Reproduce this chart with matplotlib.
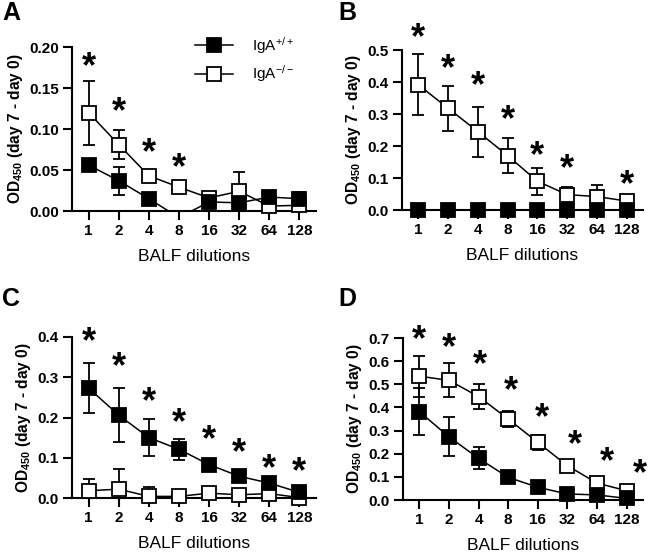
import numpy as np
import matplotlib
matplotlib.use("Agg")
import matplotlib.pyplot as plt
from matplotlib.lines import Line2D

plt.rcParams['font.family'] = ['Liberation Sans', 'DejaVu Sans']
plt.rcParams['mathtext.fontset'] = 'custom'
plt.rcParams['mathtext.rm'] = 'Liberation Sans'
plt.rcParams['mathtext.bf'] = 'Liberation Sans:bold'
plt.rcParams['mathtext.it'] = 'Liberation Sans:italic'

dilutions = ["1", "2", "4", "8", "16", "32", "64", "128"]

# Panel A
a_pos = [0.056, 0.037, 0.015, -0.008, 0.011, 0.010, 0.017, 0.015]
a_pos_err = [0.003, 0.017, 0.003, 0.0, 0.003, 0.003, 0.003, 0.008]
a_neg = [0.120, 0.081, 0.043, 0.029, 0.016, 0.024, 0.006, 0.007]
a_neg_err = [0.039, 0.018, 0.003, 0.002, 0.003, 0.023, 0.003, 0.003]
a_star_x = [0, 1, 2, 3]
a_star_y = [0.183, 0.128, 0.078, 0.060]

# Panel B
b_pos = [0, 0, 0, 0, 0, 0, 0, 0]
b_pos_err = [0, 0, 0, 0, 0, 0, 0, 0]
b_neg = [0.391, 0.318, 0.245, 0.170, 0.090, 0.048, 0.042, 0.028]
b_neg_err = [0.095, 0.070, 0.078, 0.055, 0.042, 0.025, 0.036, 0.004]
b_star_x = [0, 1, 2, 3, 4, 5, 7]
b_star_y = [0.557, 0.458, 0.407, 0.298, 0.187, 0.147, 0.095]

# Panel C
c_pos = [0.273, 0.206, 0.150, 0.121, 0.083, 0.054, 0.037, 0.014]
c_pos_err = [0.062, 0.067, 0.046, 0.026, 0.003, 0.003, 0.003, 0.003]
c_neg = [0.018, 0.022, 0.004, 0.004, 0.012, 0.008, 0.011, 0.001]
c_neg_err = [0.029, 0.050, 0.023, 0.003, 0.003, 0.003, 0.003, 0.0]
c_star_x = [0, 1, 2, 3, 4, 5, 6, 7]
c_star_y = [0.403, 0.341, 0.254, 0.200, 0.158, 0.125, 0.087, 0.079]

# Panel D
d_pos = [0.382, 0.273, 0.180, 0.098, 0.055, 0.026, 0.022, 0.007]
d_pos_err = [0.101, 0.084, 0.047, 0.005, 0.005, 0.005, 0.005, 0.005]
d_neg = [0.535, 0.517, 0.447, 0.350, 0.249, 0.148, 0.073, 0.040]
d_neg_err = [0.088, 0.074, 0.055, 0.036, 0.033, 0.005, 0.005, 0.005]
d_star_x = [0, 0.99, 2.04, 3.09, 4.13, 5.24, 6.34, 7.44]
d_star_y = [0.718, 0.680, 0.610, 0.494, 0.379, 0.264, 0.190, 0.137]

W, H = 650, 553
fig = plt.figure(figsize=(W / 100, H / 100), dpi=100)


def px_axes(left, right, top, bottom):
    return fig.add_axes([left / W, 1 - bottom / H, (right - left) / W, (bottom - top) / H])


MS = 9.5


def draw_panel(ax, pos, pos_err, neg, neg_err, ymax, yticks, fmt, star_x, star_y):
    x = np.arange(len(dilutions))
    for vals, errs, face, z in [(neg, neg_err, 'white', 3), (pos, pos_err, 'black', 4)]:
        vals = np.asarray(vals, float)
        errs = np.asarray(errs, float)
        ax.errorbar(x, vals, yerr=errs, fmt='none', ecolor='black', elinewidth=1.3,
                    capsize=4.5, capthick=1.3, zorder=z)
        ax.plot(x, vals, '-', color='black', lw=1.1, zorder=z)
        mv = np.where(vals >= 0, vals, np.nan)
        ax.plot(x, mv, 's', ms=MS, mfc=face, mec='black', mew=1.3, zorder=z + 0.5,
                clip_on=False, linestyle='none')
    for sx, sy in zip(star_x, star_y):
        ax.annotate('*', xy=(sx, sy), xytext=(0, -11.5), textcoords='offset points',
                    ha='center', va='baseline', fontsize=26, fontweight='bold',
                    annotation_clip=False)
    ax.set_xlim(-0.55, 7.55)
    ax.set_ylim(0, ymax)
    ax.set_xticks(x)
    ax.set_xticklabels(dilutions)
    ax.set_yticks(yticks)
    ax.set_yticklabels([fmt.format(v) for v in yticks])
    for s in ['top', 'right']:
        ax.spines[s].set_visible(False)
    for s in ['left', 'bottom']:
        ax.spines[s].set_linewidth(1.5)
    ax.tick_params(axis='both', direction='out', length=6.5, width=1.5, labelsize=11, pad=3)
    for lab in ax.get_xticklabels() + ax.get_yticklabels():
        lab.set_fontweight('bold')
    ax.set_xlabel('BALF dilutions', fontsize=12.5, labelpad=8)
    ax.set_ylabel(r'OD$_{\mathbf{450}}$ (day 7 - day 0)', fontsize=11.2, fontweight='bold', labelpad=3)
    ax.patch.set_alpha(0)
    return ax


axA = px_axes(72, 316, 47, 211)
draw_panel(axA, a_pos, a_pos_err, a_neg, a_neg_err, 0.20,
           [0, 0.05, 0.10, 0.15, 0.20], '{:.2f}', a_star_x, a_star_y)
axB = px_axes(402, 643, 50, 210)
draw_panel(axB, b_pos, b_pos_err, b_neg, b_neg_err, 0.5,
           [0, 0.1, 0.2, 0.3, 0.4, 0.5], '{:.1f}', b_star_x, b_star_y)
axC = px_axes(72, 316, 337, 498)
draw_panel(axC, c_pos, c_pos_err, c_neg, c_neg_err, 0.4,
           [0, 0.1, 0.2, 0.3, 0.4], '{:.1f}', c_star_x, c_star_y)
axD = px_axes(403, 643, 338, 500)
draw_panel(axD, d_pos, d_pos_err, d_neg, d_neg_err, 0.7,
           [0, 0.1, 0.2, 0.3, 0.4, 0.5, 0.6, 0.7], '{:.1f}', d_star_x, d_star_y)

for letter, (lx, ly) in zip('ABCD', [(2, 20), (338, 20), (2, 306), (338, 306)]):
    fig.text(lx / W, 1 - ly / H, letter, fontsize=18, fontweight='bold', ha='left', va='baseline')

handles = [Line2D([], [], color='black', lw=1.1, marker='s', ms=MS, mfc='black', mec='black', mew=1.3),
           Line2D([], [], color='black', lw=1.1, marker='s', ms=MS, mfc='white', mec='black', mew=1.3)]
labels = [r'IgA$^{\mathregular{+/+}}$', r'IgA$^{\mathregular{-/-}}$']
fig.legend(handles, labels, loc='upper left', bbox_to_anchor=(195 / W, 1 - 35 / H),
           frameon=False, fontsize=11, handlelength=2.5, handletextpad=1.2,
           labelspacing=0.5, borderpad=0, borderaxespad=0)

fig.savefig('out.png', dpi=100)
